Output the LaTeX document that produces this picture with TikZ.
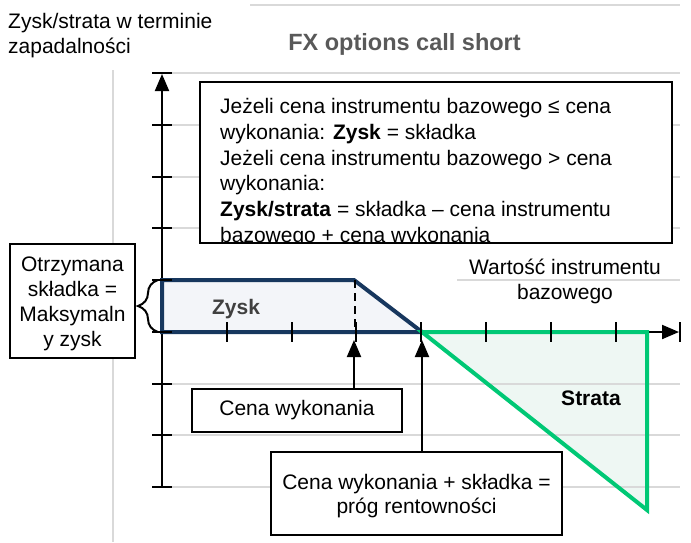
\documentclass[tikz,border=0pt]{standalone}
\usepackage{fontspec}
\setmainfont{Liberation Sans}
\usetikzlibrary{arrows.meta,decorations.pathreplacing}
\definecolor{navy}{RGB}{23,55,94}
\definecolor{navyfill}{RGB}{243,245,249}
\definecolor{grn}{RGB}{0,200,117}
\definecolor{grnfill}{RGB}{238,247,243}
\definecolor{gridgray}{RGB}{217,217,217}
\definecolor{titlegray}{RGB}{89,89,89}
\definecolor{labelgray}{RGB}{64,64,64}
\begin{document}
\begin{tikzpicture}[x=1pt,y=-1pt,
  every node/.style={font=\fontsize{21}{25}\selectfont, inner sep=0pt},
  gridline/.style={draw=gridgray, line width=2pt},
  axisline/.style={line width=2pt, -{Triangle[length=17pt,width=14pt]}},
  tickmark/.style={line width=2pt},
  box/.style={draw, line width=2pt, fill=white},
  ptr/.style={line width=2pt, -{Triangle[length=17pt,width=14pt]}},
  profitarea/.style={fill=navyfill},
  lossarea/.style={fill=grnfill},
  boldlabel/.style={font=\fontsize{21}{25}\selectfont\bfseries}]
\useasboundingbox (0,0) rectangle (691,542);
% frame lines
\draw[gridline] (113,70) -- (113,542);
\draw[gridline] (250,5) -- (680,5);
% fills
\fill[profitarea] (162,280) -- (354,280) -- (422,332) -- (162,332) -- cycle;
\fill[lossarea] (422,332) -- (647,332) -- (647,510) -- cycle;
% gridlines
\foreach \k in {0,1,2,3,6,7,8} {
  \draw[gridline] (172,73+51.75*\k) -- (680,73+51.75*\k);
}
\draw[gridline] (457,280) -- (680,280);
% axes
\draw[axisline] (162,487) -- (162,74);
\draw[axisline] (162,332) -- (679,332);
% shapes
\draw[navy, line width=4pt, line join=miter] (162,280) -- (354,280) -- (422,332) -- (162,332) -- cycle;
\draw[grn, line width=4pt, line join=miter] (422,332) -- (647,332) -- (647,510) -- cycle;
% ticks
\foreach \k in {0,...,8} {
  \draw[tickmark] (152,73+51.75*\k) -- (172,73+51.75*\k);
}
\foreach \k in {1,...,8} {
  \draw[tickmark] (162+64.8*\k,322) -- (162+64.8*\k,342);
}
% strike dashed
\draw[line width=2.5pt, dash pattern=on 8pt off 5pt] (355,280) -- (355,332);
% labels
\node[anchor=base west] (ytitle1) at (8,28) {Zysk/strata w terminie};
\node[anchor=base west] (ytitle2) at (8,53) {zapadalności};
\node[anchor=base, font=\fontsize{23.5}{28}\selectfont\bfseries, text=titlegray] (title) at (404.5,50) {FX options call short};
\node[align=center] (xtitle) at (565,281) {Wartość instrumentu\\bazowego};
\node[boldlabel, text=labelgray, anchor=base] (zysk) at (236,314) {Zysk};
\node[boldlabel, anchor=base] (strata) at (591,405) {Strata};
% condition box
\node[box, minimum width=472, minimum height=161] (cond) at (436,162.5) {};
\begin{scope}
\clip (201,83) rectangle (671,242);
\node[anchor=base west] (c1) at (220,113) {Jeżeli cena instrumentu bazowego ≤ cena};
\node[anchor=base west] (c2) at (220,139) {wykonania: \textbf{Zysk} = składka};
\node[anchor=base west] (c3) at (220,165) {Jeżeli cena instrumentu bazowego > cena};
\node[anchor=base west] (c4) at (220,190) {wykonania:};
\node[anchor=base west] (c5) at (220,216) {\textbf{Zysk/strata} = składka – cena instrumentu};
\node[anchor=base west] (c6) at (220,242) {bazowego + cena wykonania};
\end{scope}
% premium box
\node[box, minimum width=125, minimum height=114] (premium) at (72.5,301) {};
\node[align=center] (premiumtext) at (72.5,304) {Otrzymana\\składka =\\Maksymaln\\y zysk};
% strike box
\node[box, minimum width=210, minimum height=43] (strikebox) at (297,410.5) {Cena wykonania};
% breakeven box
\node[box, minimum width=291, minimum height=83] (bebox) at (416.5,493.5) {};
\node[align=center, font=\fontsize{21}{24}\selectfont] (betext) at (416.5,496) {Cena wykonania + składka =\\próg rentowności};
% pointers
\coordinate (strikept) at (354,340);
\coordinate (bept) at (422,340);
\draw[ptr] (strikebox.north -| strikept) -- (strikept);
\draw[ptr] (bebox.north -| bept) -- (bept);
% brace
\draw[line width=2pt, decorate, decoration={brace, amplitude=20pt, aspect=0.5}] (158,332) -- (158,280);
\end{tikzpicture}
\end{document}
